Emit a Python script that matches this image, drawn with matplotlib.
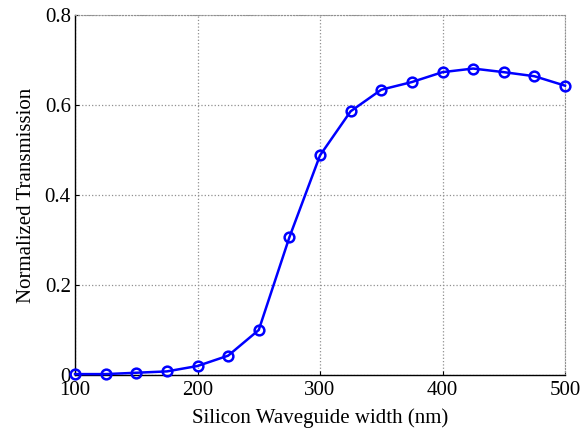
import matplotlib
matplotlib.use("Agg")
import matplotlib.pyplot as plt

width_nm = [100, 125, 150, 175, 200, 225, 250, 275, 300, 325, 350, 375, 400, 425, 450, 475, 500]
transmission = [0.002, 0.002, 0.005, 0.008, 0.020, 0.043, 0.100, 0.306, 0.488, 0.586, 0.634, 0.651, 0.673, 0.681, 0.673, 0.664, 0.643]
xticks = [100, 200, 300, 400, 500]
yticks = [0, 0.2, 0.4, 0.6, 0.8]
yticklabels = ["0", "0.2", "0.4", "0.6", "0.8"]

plt.rcParams['font.family'] = ['Liberation Serif', 'DejaVu Serif']
fig = plt.figure(figsize=(5.82, 4.30), dpi=100)
ax = fig.add_axes([75/582, 55/430, 490/582, 360/430])
ax.plot(width_nm, transmission, color='#0000ff', lw=1.8, marker='o', ms=7,
        mfc='none', mec='#0000ff', mew=1.8, zorder=3, clip_on=False)
ax.set_xlim(100, 500)
ax.set_ylim(0, 0.8)
ax.set_xticks(xticks)
ax.set_yticks(yticks)
ax.set_yticklabels(yticklabels)
ax.grid(True, color='#909090', linestyle=':', linewidth=0.9)
for s in ['top', 'right']:
    ax.spines[s].set_color('#909090')
    ax.spines[s].set_linestyle(':')
for s in ['left', 'bottom']:
    ax.spines[s].set_color('black')
    ax.spines[s].set_linewidth(1.0)
ax.tick_params(direction='in', length=3, labelsize=15, color='black')
ax.tick_params(axis='x', pad=4)
ax.tick_params(axis='y', pad=3)
ax.set_xlabel('Silicon Waveguide width (nm)', fontsize=15, labelpad=6)
ax.set_ylabel('Normalized Transmission', fontsize=15, labelpad=6)
fig.savefig('out.png', dpi=100)
